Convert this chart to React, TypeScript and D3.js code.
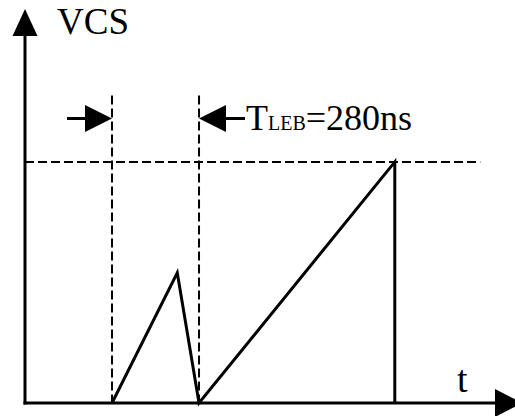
import React from "react";
import * as d3 from "d3";

// waveform of VCS against time (ns, normalised voltage)
const waveT = [280, 490, 560, 1190, 1190];
const waveV = [0, 0.54, 0, 1, 0];
// dashed guide lines
const markerT = [280, 560];
const thresholdV = 1;
const thresholdEndT = 1465;
const guideTopV = 1.275;
const arrowV = 1.18;
const labelText = { main: "T", sub: "LEB", rest: "=280ns" };

const W = 515;
const H = 416;

export default function App() {
  const x = d3.scaleLinear().domain([0, 1580]).range([25, 516]);
  const y = d3.scaleLinear().domain([0, 1.63]).range([403, 10]);

  const line = d3
    .line<number>()
    .x((d, i) => x(waveT[i]))
    .y((d) => y(d));

  const font = "Liberation Serif";
  const x0 = x(0);
  const y0 = y(0);
  const ay = y(arrowV);

  return (
    <svg width={W} height={H} style={{ position: "absolute", left: 0, top: 0 }}>
      <rect width={W} height={H} fill="#fff" />
      {/* guides */}
      {markerT.map((t) => (
        <line key={t} x1={x(t)} x2={x(t)} y1={y(guideTopV)} y2={y0}
          stroke="#000" strokeWidth={2} strokeDasharray="9,4" />
      ))}
      <line x1={x0} x2={x(thresholdEndT)} y1={y(thresholdV)} y2={y(thresholdV)}
        stroke="#000" strokeWidth={2} strokeDasharray="9,4" />

      {/* axes */}
      <line x1={x0} x2={x0} y1={y0 + 1.5} y2={34} stroke="#000" strokeWidth={3} />
      <path d={`M${x0},9 L${x0 - 12.5},36 L${x0 + 12.5},36 Z`} fill="#000" />
      <line x1={x0 - 1.5} x2={497} y1={y0} y2={y0} stroke="#000" strokeWidth={3} />
      <path d={`M495,${y0 - 14} L522,${y0} L495,${y0 + 14} Z`} fill="#000" />

      {/* waveform */}
      <path d={line(waveV) || ""} fill="none" stroke="#000" strokeWidth={3}
        strokeLinejoin="miter" />

      {/* TLEB arrows */}
      <line x1={67} x2={90} y1={ay} y2={ay} stroke="#000" strokeWidth={3} />
      <path d={`M${x(markerT[0])},${ay} L${x(markerT[0]) - 27},${ay - 13.5} L${x(markerT[0]) - 27},${ay + 13.5} Z`} fill="#000" />
      <line x1={x(markerT[1]) + 22} x2={245} y1={ay} y2={ay} stroke="#000" strokeWidth={3} />
      <path d={`M${x(markerT[1])},${ay} L${x(markerT[1]) + 27},${ay - 13.5} L${x(markerT[1]) + 27},${ay + 13.5} Z`} fill="#000" />

      {/* text */}
      <text x={57} y={34} fontFamily={font} fontSize={37}>VCS</text>
      <text x={246} y={130} fontFamily={font} fontSize={36}>
        {labelText.main}
        <tspan fontSize={20}>{labelText.sub}</tspan>
        {labelText.rest}
      </text>
      <text x={457} y={392} fontFamily={font} fontSize={38}>t</text>
    </svg>
  );
}
